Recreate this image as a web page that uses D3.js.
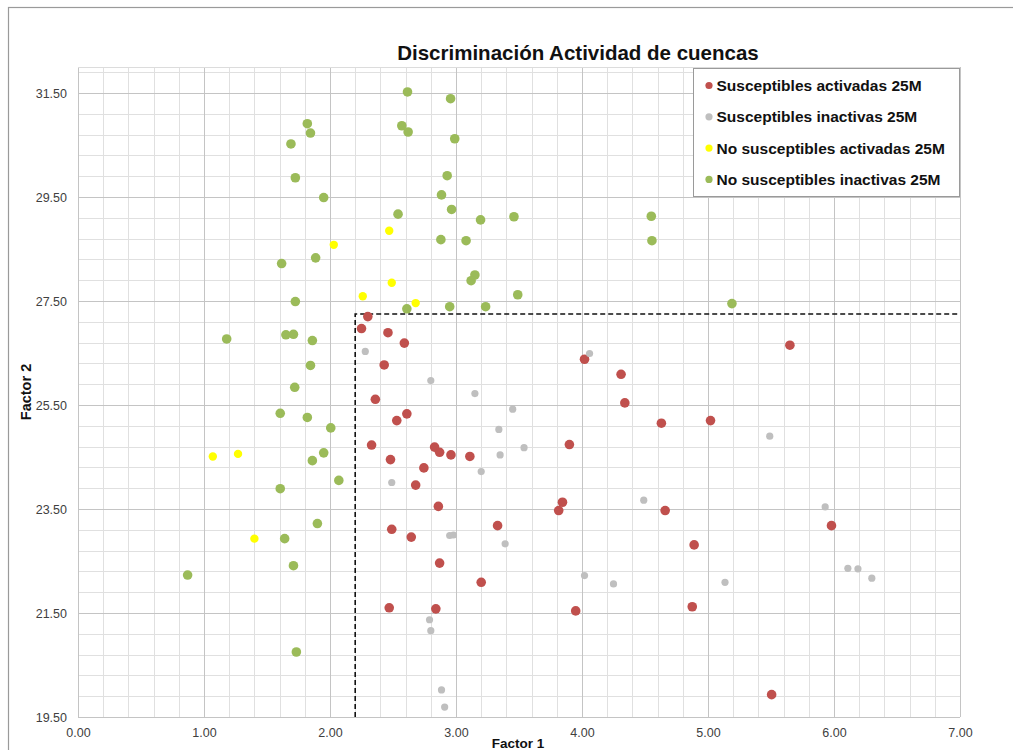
<!DOCTYPE html>
<html>
<head>
<meta charset="utf-8">
<script src="https://cdn.jsdelivr.net/npm/d3@7"></script>
<style>
  body { margin: 0; background: #fff; }
  svg { display: block; font-family: "Liberation Sans", Arial, sans-serif; }
</style>
</head>
<body>
<div id="chart"></div>
<script>
// series data
const redX = [2.30, 2.25, 2.46, 2.59, 2.43, 2.36, 2.61, 2.53, 2.33, 2.83, 2.87, 2.96, 3.11, 2.48, 2.745, 2.68, 2.86, 3.33, 2.49, 2.645, 2.87, 3.20, 2.47, 2.84, 3.95, 4.875, 5.505, 4.02, 4.31, 4.34, 5.65, 4.63, 5.02, 3.90, 3.845, 3.815, 4.66, 5.98, 4.89];
const redY = [27.20, 26.97, 26.89, 26.69, 26.27, 25.61, 25.33, 25.20, 24.73, 24.69, 24.59, 24.54, 24.51, 24.45, 24.29, 23.96, 23.55, 23.18, 23.11, 22.96, 22.46, 22.09, 21.60, 21.58, 21.54, 21.62, 19.93, 26.38, 26.09, 25.54, 26.65, 25.15, 25.20, 24.74, 23.63, 23.47, 23.47, 23.18, 22.81];

const grayX = [2.28, 2.80, 3.15, 3.45, 3.34, 3.54, 3.35, 3.20, 2.49, 2.95, 2.98, 3.39, 2.79, 2.80, 2.885, 2.91, 4.06, 5.49, 4.49, 5.93, 4.02, 4.25, 5.135, 6.11, 6.19, 6.30];
const grayY = [26.53, 25.97, 25.72, 25.42, 25.03, 24.68, 24.54, 24.22, 24.01, 22.99, 23.00, 22.83, 21.37, 21.16, 20.02, 19.69, 26.49, 24.90, 23.67, 23.54, 22.22, 22.06, 22.09, 22.36, 22.35, 22.17];

const yellowX = [2.03, 2.47, 2.49, 2.26, 2.68, 1.07, 1.27, 1.40];
const yellowY = [28.58, 28.85, 27.85, 27.59, 27.46, 24.51, 24.56, 22.93];

const greenX = [2.615, 2.957, 1.82, 1.845, 1.69, 2.57, 2.62, 2.99, 2.93, 1.725, 2.885, 1.95, 2.965, 2.54, 3.195, 3.46, 4.55, 2.88, 3.08, 4.555, 1.886, 1.616, 3.15, 3.12, 3.49, 1.725, 2.61, 2.95, 3.235, 5.19, 1.18, 1.65, 1.71, 1.86, 1.845, 1.72, 1.605, 1.82, 2.006, 1.95, 1.86, 2.07, 1.605, 1.90, 1.64, 1.71, 0.87, 1.733];
const greenY = [31.52, 31.39, 30.91, 30.73, 30.52, 30.87, 30.75, 30.62, 29.91, 29.87, 29.54, 29.49, 29.26, 29.17, 29.06, 29.12, 29.13, 28.68, 28.66, 28.66, 28.33, 28.22, 28.00, 27.89, 27.62, 27.49, 27.35, 27.39, 27.39, 27.45, 26.77, 26.85, 26.86, 26.74, 26.26, 25.84, 25.34, 25.26, 25.06, 24.58, 24.43, 24.05, 23.89, 23.22, 22.93, 22.41, 22.23, 20.75];

const seriesNames = ["Susceptibles activadas 25M", "Susceptibles inactivas 25M", "No susceptibles activadas 25M", "No susceptibles inactivas 25M"];
const seriesColors = ["#C0504D", "#BFBFBF", "#FFFF00", "#9BBB59"];
const seriesRadius = [4.8, 3.6, 4.2, 4.8];

const xTicks = [0, 1, 2, 3, 4, 5, 6, 7];
const yTicks = [19.5, 21.5, 23.5, 25.5, 27.5, 29.5, 31.5];

// threshold box (dashed)
const cutX = 2.2;
const cutY = 27.25;

const W = 1013, H = 750;
const MARGIN = { TOP: 67, LEFT: 78, RIGHT: 53, BOTTOM: 33 };

const svg = d3.select("#chart").append("svg")
  .attr("width", W)
  .attr("height", H);

// outer chart border
svg.append("rect")
  .attr("x", 8.5).attr("y", 7.5)
  .attr("width", W + 20).attr("height", H + 20)
  .attr("fill", "none").attr("stroke", "#9a9a9a").attr("stroke-width", 1.2);

const x = d3.scaleLinear().domain([0, 7]).range([MARGIN.LEFT, W - MARGIN.RIGHT]);
const y = d3.scaleLinear().domain([19.5, 32]).range([H - MARGIN.BOTTOM, MARGIN.TOP]);

const grid = svg.append("g");

// minor grid
grid.selectAll(".vmin").data(d3.range(0, 7.001, 0.2))
  .join("line")
  .attr("x1", d => Math.round(x(d)) + 0.5).attr("x2", d => Math.round(x(d)) + 0.5)
  .attr("y1", y(32)).attr("y2", y(19.5))
  .attr("stroke", "#e0e0e0");

grid.selectAll(".hmin").data(d3.range(19.5, 32.001, 0.4))
  .join("line")
  .attr("y1", d => Math.round(y(d)) + 0.5).attr("y2", d => Math.round(y(d)) + 0.5)
  .attr("x1", x(0)).attr("x2", x(7))
  .attr("stroke", "#e0e0e0");

// major grid
grid.selectAll(".vmaj").data(xTicks)
  .join("line")
  .attr("x1", d => Math.round(x(d)) + 0.5).attr("x2", d => Math.round(x(d)) + 0.5)
  .attr("y1", y(32)).attr("y2", y(19.5))
  .attr("stroke", "#c4c4c4");

grid.selectAll(".hmaj").data(yTicks)
  .join("line")
  .attr("y1", d => Math.round(y(d)) + 0.5).attr("y2", d => Math.round(y(d)) + 0.5)
  .attr("x1", x(0)).attr("x2", x(7))
  .attr("stroke", "#c4c4c4");

grid.append("line")
  .attr("x1", x(0)).attr("x2", x(7))
  .attr("y1", Math.round(y(32)) + 0.5).attr("y2", Math.round(y(32)) + 0.5)
  .attr("stroke", "#dcdcdc");

// axes (labels only)
const xAxis = svg.append("g")
  .attr("transform", `translate(0,${y(19.5)})`)
  .call(d3.axisBottom(x).tickValues(xTicks).tickFormat(d3.format(".2f")).tickSize(0).tickPadding(11));
const yAxis = svg.append("g")
  .attr("transform", `translate(${x(0)},0)`)
  .call(d3.axisLeft(y).tickValues(yTicks).tickFormat(d3.format(".2f")).tickSize(0).tickPadding(11));

[xAxis, yAxis].forEach(g => {
  g.select(".domain").remove();
  g.selectAll("text")
    .attr("font-family", "Liberation Sans, Arial, sans-serif")
    .attr("font-size", 12.5)
    .attr("fill", "#404040");
});

// dashed threshold
svg.append("path")
  .attr("d", `M${x(cutX)},${y(19.5)} L${x(cutX)},${y(cutY)} L${x(7)},${y(cutY)}`)
  .attr("fill", "none")
  .attr("stroke", "#111")
  .attr("stroke-width", 1.6)
  .attr("stroke-dasharray", "5,3");

// points
const allSeries = [
  { xs: redX, ys: redY },
  { xs: grayX, ys: grayY },
  { xs: yellowX, ys: yellowY },
  { xs: greenX, ys: greenY }
];

allSeries.forEach((s, i) => {
  const pts = s.xs.map((v, k) => [v, s.ys[k]]);
  svg.append("g").selectAll("circle")
    .data(pts)
    .join("circle")
    .attr("cx", d => x(d[0]))
    .attr("cy", d => y(d[1]))
    .attr("r", seriesRadius[i])
    .attr("fill", seriesColors[i]);
});

// title
svg.append("text")
  .attr("x", 578).attr("y", 60)
  .attr("text-anchor", "middle")
  .attr("font-size", 20.5)
  .attr("font-weight", "bold")
  .attr("fill", "#111")
  .text("Discriminación Actividad de cuencas");

// axis titles
svg.append("text")
  .attr("x", 518).attr("y", 748)
  .attr("text-anchor", "middle")
  .attr("font-size", 13.5)
  .attr("font-weight", "bold")
  .attr("fill", "#111")
  .text("Factor 1");

svg.append("text")
  .attr("transform", `translate(31,${y(25.75)}) rotate(-90)`)
  .attr("text-anchor", "middle")
  .attr("font-size", 14.5)
  .attr("font-weight", "bold")
  .attr("fill", "#111")
  .text("Factor 2");

// legend
const legend = svg.append("g").attr("transform", "translate(693.5,68.5)");
legend.append("rect")
  .attr("width", 266).attr("height", 128)
  .attr("fill", "#fff")
  .attr("stroke", "#9a9a9a");

seriesNames.forEach((name, i) => {
  const row = legend.append("g").attr("transform", `translate(0,${17 + i * 31.3})`);
  row.append("circle")
    .attr("cx", 15.5).attr("cy", 0)
    .attr("r", 3.6)
    .attr("fill", seriesColors[i]);
  row.append("text")
    .attr("x", 23).attr("y", 5.5)
    .attr("font-size", 15.5)
    .attr("font-weight", "bold")
    .attr("fill", "#111")
    .text(name);
});
</script>
</body>
</html>
